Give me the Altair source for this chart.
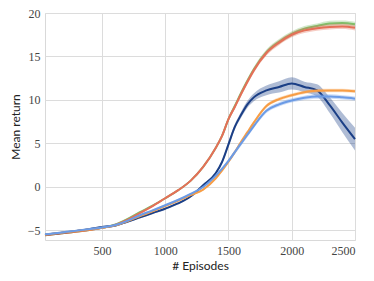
import altair as alt
import pandas as pd

episodes = [50, 200, 400, 500, 600, 700, 800, 900, 1000, 1100, 1200, 1300, 1400,
            1450, 1500, 1550, 1600, 1650, 1700, 1800, 1900, 2000, 2100, 2200,
            2300, 2400, 2500]

green = [-5.55, -5.3, -4.95, -4.7, -4.35, -3.7, -2.9, -2.15, -1.3, -0.4, 0.7, 2.3, 4.5,
         5.9, 7.8, 9.3, 10.8, 12.2, 13.5, 15.5, 16.7, 17.6, 18.2, 18.5, 18.8, 18.85, 18.7]
red = [-5.55, -5.3, -4.95, -4.7, -4.4, -3.8, -3.0, -2.2, -1.3, -0.4, 0.7, 2.3, 4.5,
       5.9, 7.8, 9.2, 10.7, 12.1, 13.4, 15.4, 16.6, 17.5, 18.0, 18.25, 18.4, 18.45, 18.3]
navy = [-5.5, -5.25, -4.85, -4.6, -4.45, -4.0, -3.5, -3.0, -2.5, -1.9, -1.1, 0.2, 1.6,
        2.9, 4.9, 6.9, 8.3, 9.5, 10.3, 11.1, 11.5, 11.9, 11.5, 11.1, 9.4, 7.4, 5.5]
orange = [-5.5, -5.25, -4.9, -4.7, -4.45, -3.95, -3.35, -2.8, -2.2, -1.6, -0.95, -0.3, 1.0,
          1.9, 2.9, 4.0, 5.2, 6.3, 7.4, 9.3, 10.1, 10.55, 10.9, 11.05, 11.1, 11.1, 11.0]
lightblue = [-5.45, -5.2, -4.85, -4.65, -4.4, -3.9, -3.25, -2.7, -2.1, -1.5, -0.8, 0.0, 1.3,
             2.1, 3.0, 4.0, 5.0, 6.0, 7.0, 8.75, 9.5, 9.95, 10.25, 10.4, 10.4, 10.3, 10.15]

# band half-widths
green_sd = [0.1] * 13 + [0.2, 0.25, 0.25, 0.3, 0.3, 0.3, 0.3, 0.3, 0.3, 0.3, 0.3, 0.3, 0.3, 0.3]
red_sd = [0.1] * 13 + [0.2, 0.25, 0.25, 0.3, 0.3, 0.3, 0.3, 0.3, 0.3, 0.3, 0.3, 0.3, 0.3, 0.3]
navy_sd = [0.12] * 13 + [0.2, 0.3, 0.3, 0.35, 0.4, 0.45, 0.55, 0.65, 0.7, 0.6, 0.7, 0.9, 1.1, 1.3]
orange_sd = [0.1] * 13 + [0.15, 0.2, 0.2, 0.2, 0.2, 0.2, 0.2, 0.2, 0.2, 0.2, 0.2, 0.2, 0.2, 0.2]
lightblue_sd = [0.1] * 13 + [0.15, 0.2, 0.25, 0.25, 0.25, 0.25, 0.25, 0.25, 0.25, 0.25, 0.25, 0.25, 0.25, 0.25]

series = [
    ("green", green, green_sd, "#7fbf6a"),
    ("red", red, red_sd, "#e56f58"),
    ("navy", navy, navy_sd, "#1b3f86"),
    ("orange", orange, orange_sd, "#f79d45"),
    ("lightblue", lightblue, lightblue_sd, "#6b9be6"),
]

x_scale = alt.Scale(domain=[50, 2500], nice=False, zero=False)
y_scale = alt.Scale(domain=[-6.1, 20], nice=False, zero=False)

x_axis = alt.Axis(values=[500, 1000, 1500, 2000, 2500], title="# Episodes", format="d")
y_axis = alt.Axis(values=[-5, 0, 5, 10, 15, 20], title="Mean return", format="d")

layers = []
for name, vals, sd, col in series:
    df = pd.DataFrame({
        "x": episodes,
        "y": vals,
        "lo": [v - s for v, s in zip(vals, sd)],
        "hi": [v + s for v, s in zip(vals, sd)],
    })
    band = alt.Chart(df).mark_area(color=col, opacity=0.35, interpolate="monotone").encode(
        x=alt.X("x:Q", scale=x_scale, axis=x_axis),
        y=alt.Y("lo:Q", scale=y_scale, axis=y_axis),
        y2="hi:Q",
    )
    line = alt.Chart(df).mark_line(color=col, strokeWidth=2, interpolate="monotone").encode(
        x=alt.X("x:Q", scale=x_scale, axis=x_axis),
        y=alt.Y("y:Q", scale=y_scale, axis=y_axis),
    )
    layers.append(band)
    layers.append(line)

chart = alt.layer(*layers).properties(
    width=310,
    height=227,
    autosize=alt.AutoSizeParams(type="none"),
    padding={"left": 37, "top": 5, "right": 11, "bottom": 32},
).configure(
    font="Lato",
).configure_view(
    stroke="#d9d9d9", strokeWidth=1
).configure_axis(
    domain=False,
    ticks=False,
    grid=True,
    gridColor="#dcdcdc",
    gridWidth=1,
    labelFont="Liberation Serif",
    labelFontSize=12,
    labelColor="#444444",
    titleFont="Lato",
    titleFontSize=12,
    titleFontWeight="normal",
    titleColor="#222222",
).configure_axisX(
    labelPadding=5,
    titlePadding=4,
).configure_axisY(
    labelPadding=5,
    titlePadding=5,
)

chart.save("out.html", embed_options={"renderer": "svg", "actions": False})
